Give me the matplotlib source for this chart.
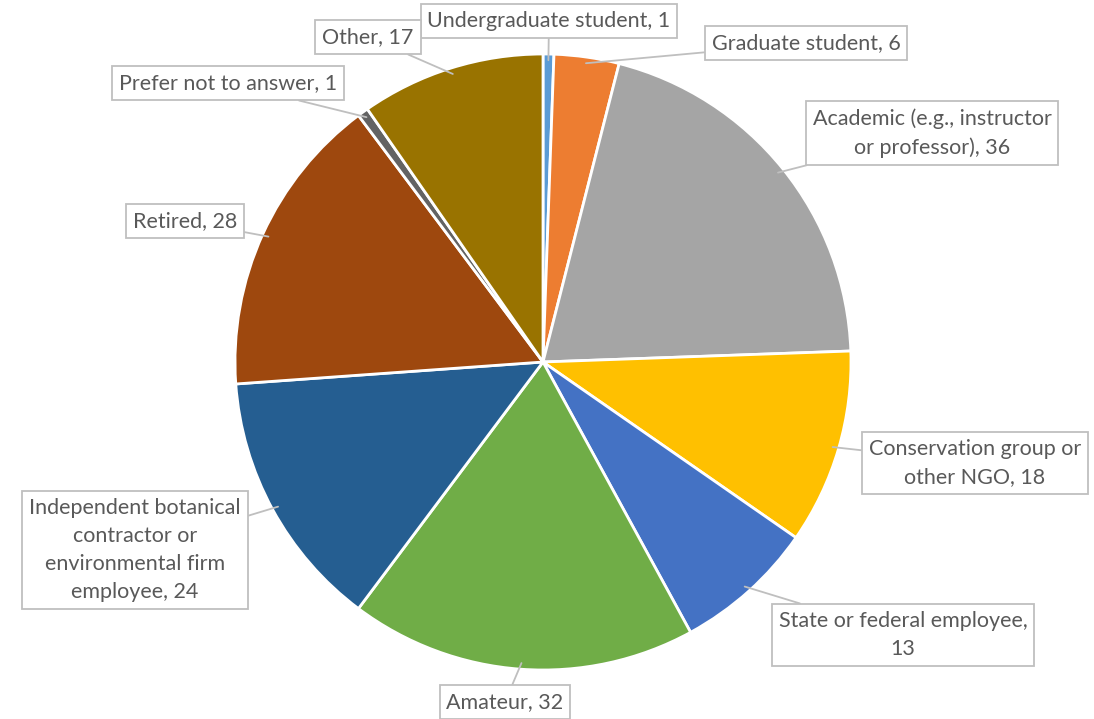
import numpy as np
import matplotlib
matplotlib.use("Agg")
import matplotlib.pyplot as plt

# Data
categories = ["Undergraduate student", "Graduate student",
              "Academic (e.g., instructor\nor professor)",
              "Conservation group or\nother NGO", "State or federal employee,\n",
              "Amateur", "Independent botanical\ncontractor or\nenvironmental firm\nemployee",
              "Retired", "Prefer not to answer", "Other"]
values = [1, 6, 36, 18, 13, 32, 24, 28, 1, 17]
colors = ["#5B9BD5", "#ED7D31", "#A5A5A5", "#FFC000", "#4472C4",
          "#70AD47", "#255E91", "#9E480E", "#636363", "#997300"]

# label box centres in pixel coords (x, y from top)
label_pos = [(549, 21), (806, 43), (932, 133), (975, 463), (903, 635),
             (505, 702), (135, 550), (185, 221), (228, 83), (368, 37)]

W, H = 1094, 719
cx, cy, R = 543, H - 362, 308

fig = plt.figure(figsize=(W / 100, H / 100), dpi=100)
ax = fig.add_axes([0, 0, 1, 1])

wedges, _ = ax.pie(values, colors=colors, startangle=90, counterclock=False,
                   center=(cx, cy), radius=R,
                   wedgeprops=dict(edgecolor="white", linewidth=2))
ax.set_xlim(0, W)
ax.set_ylim(0, H)
ax.set_aspect("equal")
ax.axis("off")

total = sum(values)
start = 90
for i, (lab, v) in enumerate(zip(categories, values)):
    mid = start - 360 * v / total / 2
    start -= 360 * v / total
    a = np.deg2rad(mid)
    px, py = cx + 0.98 * R * np.cos(a), cy + 0.98 * R * np.sin(a)
    if lab.endswith("\n"):
        txt = lab + str(v)
    else:
        txt = f"{lab}, {v}"
    lx, ly = label_pos[i]
    ax.annotate(txt, xy=(px, py), xytext=(lx, H - ly),
                ha="center", va="center", fontsize=15.5, color="#595959",
                family="Lato", linespacing=1.5,
                bbox=dict(boxstyle="square,pad=0.32", fc="white", ec="#BFBFBF", lw=1.3),
                arrowprops=dict(arrowstyle="-", color="#BFBFBF", lw=1.3,
                                shrinkA=0, shrinkB=0))

fig.savefig("out.png", dpi=100)
